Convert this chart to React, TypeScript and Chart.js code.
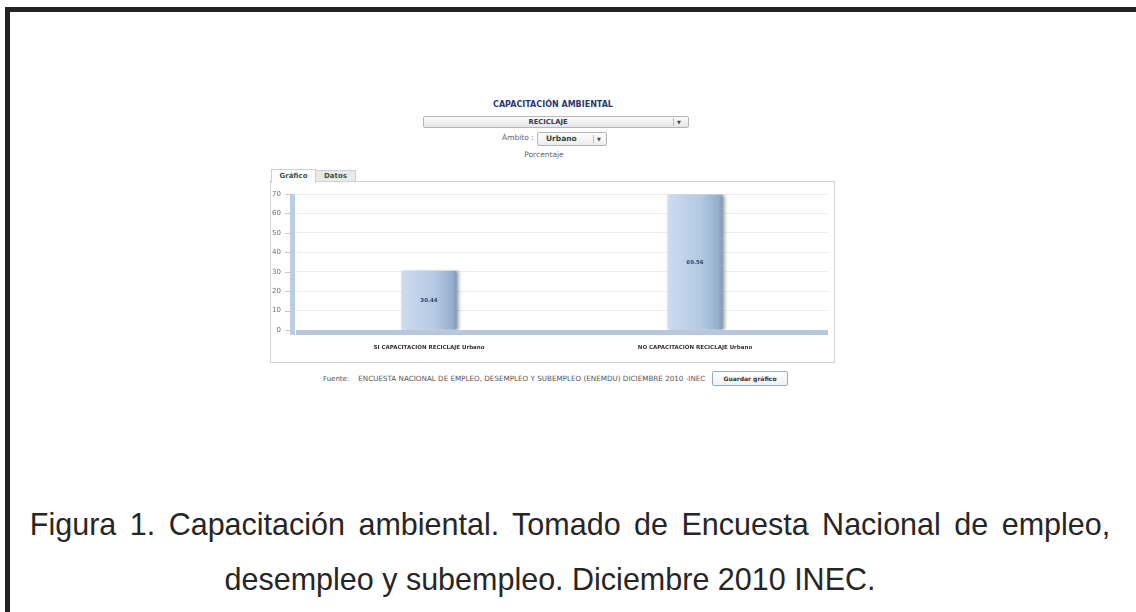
import React, { useEffect, useRef } from "react";
import { Chart, registerables } from "chart.js";

Chart.register(...registerables);

const categories = ["SI CAPACITACIÓN RECICLAJE Urbano", "NO CAPACITACIÓN RECICLAJE Urbano"];
const percentValues = [30.44, 69.56];
const yMin = 0;
const yMax = 70;
const yStep = 10;
const chartTitle = "CAPACITACIÓN AMBIENTAL";
const topicOption = "RECICLAJE";
const scopeLabel = "Ámbito :";
const scopeOption = "Urbano";
const unitLabel = "Porcentaje";
const tabLabels = ["Gráfico", "Datos"];
const sourceLabel = "Fuente:";
const sourceText = "ENCUESTA NACIONAL DE EMPLEO, DESEMPLEO Y SUBEMPLEO (ENEMDU) DICIEMBRE 2010 -INEC";
const saveButton = "Guardar gráfico";
const captionLines = [
  "Figura 1. Capacitación ambiental. Tomado de Encuesta Nacional de empleo,",
  "desempleo y subempleo. Diciembre 2010 INEC.",
];

const BAR_PCT = 0.207;
const UI_FONT = "'DejaVu Sans', Verdana, sans-serif";

const decorPlugin = {
  id: "decor",
  beforeDatasetsDraw(chart: any) {
    const { ctx, chartArea } = chart;
    const ys = chart.scales.y;
    ctx.save();
    ctx.fillStyle = "#bccde2";
    const topY = ys.getPixelForValue(yMax);
    ctx.fillRect(chartArea.left - 6, topY, 5, chartArea.bottom + 5 - topY);
    ctx.fillStyle = "#b6c7de";
    ctx.fillRect(chartArea.left, chartArea.bottom, chartArea.right - chartArea.left, 5);
    ctx.strokeStyle = "#c8c8c8";
    ctx.lineWidth = 1;
    ys.ticks.forEach((t: any) => {
      const y = Math.round(ys.getPixelForValue(t.value)) + 0.5;
      ctx.beginPath();
      ctx.moveTo(chartArea.left - 11, y);
      ctx.lineTo(chartArea.left - 6, y);
      ctx.stroke();
    });
    ctx.restore();
    ctx.save();
    ctx.shadowColor = "rgba(0,0,0,0.35)";
    ctx.shadowOffsetX = 2;
    ctx.shadowOffsetY = 0;
    ctx.shadowBlur = 3;
  },
  afterDatasetsDraw(chart: any) {
    const { ctx } = chart;
    ctx.restore();
    ctx.save();
    ctx.font = `bold 5.5px ${UI_FONT}`;
    ctx.fillStyle = "#2f4466";
    ctx.textAlign = "center";
    ctx.textBaseline = "middle";
    const meta = chart.getDatasetMeta(0);
    meta.data.forEach((bar: any, i: number) => {
      const { x, y, base } = bar.getProps(["x", "y", "base"], true);
      ctx.fillText(percentValues[i].toFixed(2), x, (y + base) / 2);
    });
    ctx.restore();
  },
};

function ChartPanel() {
  const ref = useRef<HTMLCanvasElement>(null);
  useEffect(() => {
    if (!ref.current) return;
    const chart = new Chart(ref.current, {
      type: "bar",
      data: {
        labels: categories,
        datasets: [
          {
            data: percentValues,
            barPercentage: BAR_PCT,
            categoryPercentage: 1,
            borderWidth: 0,
            backgroundColor: (c: any) => {
              const ch = c.chart;
              if (!ch.chartArea || c.dataIndex === undefined) return "#b0c6e2";
              const xs = ch.scales.x;
              const cx = xs.getPixelForValue(c.dataIndex);
              const w = (xs.width / categories.length) * BAR_PCT;
              const g = ch.ctx.createLinearGradient(cx - w / 2, 0, cx + w / 2, 0);
              g.addColorStop(0, "#cddcf0");
              g.addColorStop(0.6, "#b4c9e3");
              g.addColorStop(0.93, "#94aecd");
              g.addColorStop(1, "#8199b8");
              return g;
            },
          },
        ],
      },
      options: {
        animation: false,
        responsive: false,
        maintainAspectRatio: false,
        layout: { padding: { top: 12, right: 6, left: 0, bottom: 0 } },
        plugins: { legend: { display: false }, tooltip: { enabled: false }, title: { display: false } },
        scales: {
          x: {
            grid: { display: false, drawTicks: false },
            border: { display: false },
            ticks: {
              padding: 14,
              color: "#333333",
              font: { family: UI_FONT, size: 5.5, weight: "bold" },
              maxRotation: 0,
            },
            afterFit: (s: any) => {
              s.height = 32;
            },
          },
          y: {
            min: yMin,
            max: yMax,
            grid: { color: "#ededed", drawTicks: true, tickLength: 14, tickColor: "rgba(0,0,0,0)", lineWidth: 1 },
            border: { display: false },
            ticks: {
              stepSize: yStep,
              padding: 1,
              color: "#6f6f6f",
              font: { family: UI_FONT, size: 7 },
            },
            afterFit: (s: any) => {
              s.width = 25;
            },
          },
        },
      },
      plugins: [decorPlugin],
    });
    return () => chart.destroy();
  }, []);
  return <canvas ref={ref} width={563} height={180} style={{ display: "block", width: 563, height: 180 }} />;
}

const abs = (l: number, t: number, extra: any = {}) => ({ position: "absolute" as const, left: l, top: t, ...extra });

export default function App() {
  return (
    <div style={abs(0, 0, { width: 1136, height: 612, background: "#ffffff", overflow: "hidden", fontFamily: UI_FONT })}>
      <div style={abs(5, 7, { width: 1200, height: 700, borderTop: "5px solid #232323", borderLeft: "5px solid #232323" })} />

      <div style={abs(453, 100, { width: 200, textAlign: "center", fontSize: 8, fontWeight: "bold", color: "#2d3a6e", lineHeight: "10px" })}>
        {chartTitle}
      </div>

      <div
        style={abs(423, 116, {
          width: 264,
          height: 10,
          border: "1px solid #b5b5b5",
          borderRadius: 2,
          background: "linear-gradient(#fbfbfb, #e6e6e6)",
        })}
      >
        <div style={abs(0, 0, { width: 248, textAlign: "center", fontSize: 6.8, fontWeight: "bold", color: "#3b3b55", lineHeight: "10px" })}>
          {topicOption}
        </div>
        <div style={abs(249, 1, { width: 1, height: 8, background: "#bbb" })} />
        <div style={abs(253, 0, { fontSize: 5, color: "#444", lineHeight: "10px" })}>▼</div>
      </div>

      <div style={abs(502, 133, { fontSize: 7.5, color: "#666", lineHeight: "10px" })}>{scopeLabel}</div>
      <div
        style={abs(537, 132, {
          width: 68,
          height: 12,
          border: "1px solid #b5b5b5",
          borderRadius: 2,
          background: "linear-gradient(#fdfdfd, #ececec)",
        })}
      >
        <div style={abs(8, 1, { fontSize: 7.5, fontWeight: "bold", color: "#2f4a3a", lineHeight: "10px" })}>{scopeOption}</div>
        <div style={abs(55, 2, { width: 1, height: 8, background: "#bbb" })} />
        <div style={abs(59, 1, { fontSize: 5, color: "#444", lineHeight: "10px" })}>▼</div>
      </div>

      <div style={abs(444, 150, { width: 200, textAlign: "center", fontSize: 7.5, color: "#666", lineHeight: "10px" })}>{unitLabel}</div>

      <div
        style={abs(271, 169, {
          width: 43,
          height: 13,
          borderTop: "1px solid #cfcfcf",
          borderLeft: "1px solid #cfcfcf",
          borderRight: "1px solid #cfcfcf",
          background: "#ffffff",
          textAlign: "center",
          fontSize: 7,
          fontWeight: "bold",
          color: "#3c5446",
          lineHeight: "13px",
          zIndex: 2,
        })}
      >
        {tabLabels[0]}
      </div>
      <div
        style={abs(315, 170, {
          width: 39,
          height: 11,
          border: "1px solid #cfcfcf",
          background: "#e9e9e9",
          textAlign: "center",
          fontSize: 7,
          fontWeight: "bold",
          color: "#3c5446",
          lineHeight: "11px",
        })}
      >
        {tabLabels[1]}
      </div>

      <div style={abs(270, 181, { width: 563, height: 180, border: "1px solid #d2d2d2", zIndex: 1, background: "#fff" })}>
        <ChartPanel />
      </div>

      <div style={abs(323, 375, { fontSize: 7, color: "#555", lineHeight: "8px", whiteSpace: "nowrap" })}>
        <span>{sourceLabel}</span>
        <span style={{ marginLeft: 9, fontSize: 7.2 }}>{sourceText}</span>
      </div>
      <div
        style={abs(712, 371, {
          width: 74,
          height: 13,
          border: "1px solid #8fb0c8",
          borderRadius: 2,
          background: "linear-gradient(#ffffff, #f1f1f1)",
          textAlign: "center",
          fontSize: 6,
          fontWeight: "bold",
          color: "#333",
          lineHeight: "13px",
        })}
      >
        {saveButton}
      </div>

      <div
        style={abs(0, 504, {
          width: 1140,
          textAlign: "center",
          fontFamily: "'Liberation Sans', Arial, sans-serif",
          fontSize: 30.5,
          wordSpacing: 5,
          color: "#262626",
          lineHeight: "40px",
          whiteSpace: "nowrap",
        })}
      >
        {captionLines[0]}
      </div>
      <div
        style={abs(0, 559, {
          width: 1100,
          textAlign: "center",
          fontFamily: "'Liberation Sans', Arial, sans-serif",
          fontSize: 30.5,
          color: "#262626",
          lineHeight: "40px",
          whiteSpace: "nowrap",
        })}
      >
        {captionLines[1]}
      </div>
    </div>
  );
}
